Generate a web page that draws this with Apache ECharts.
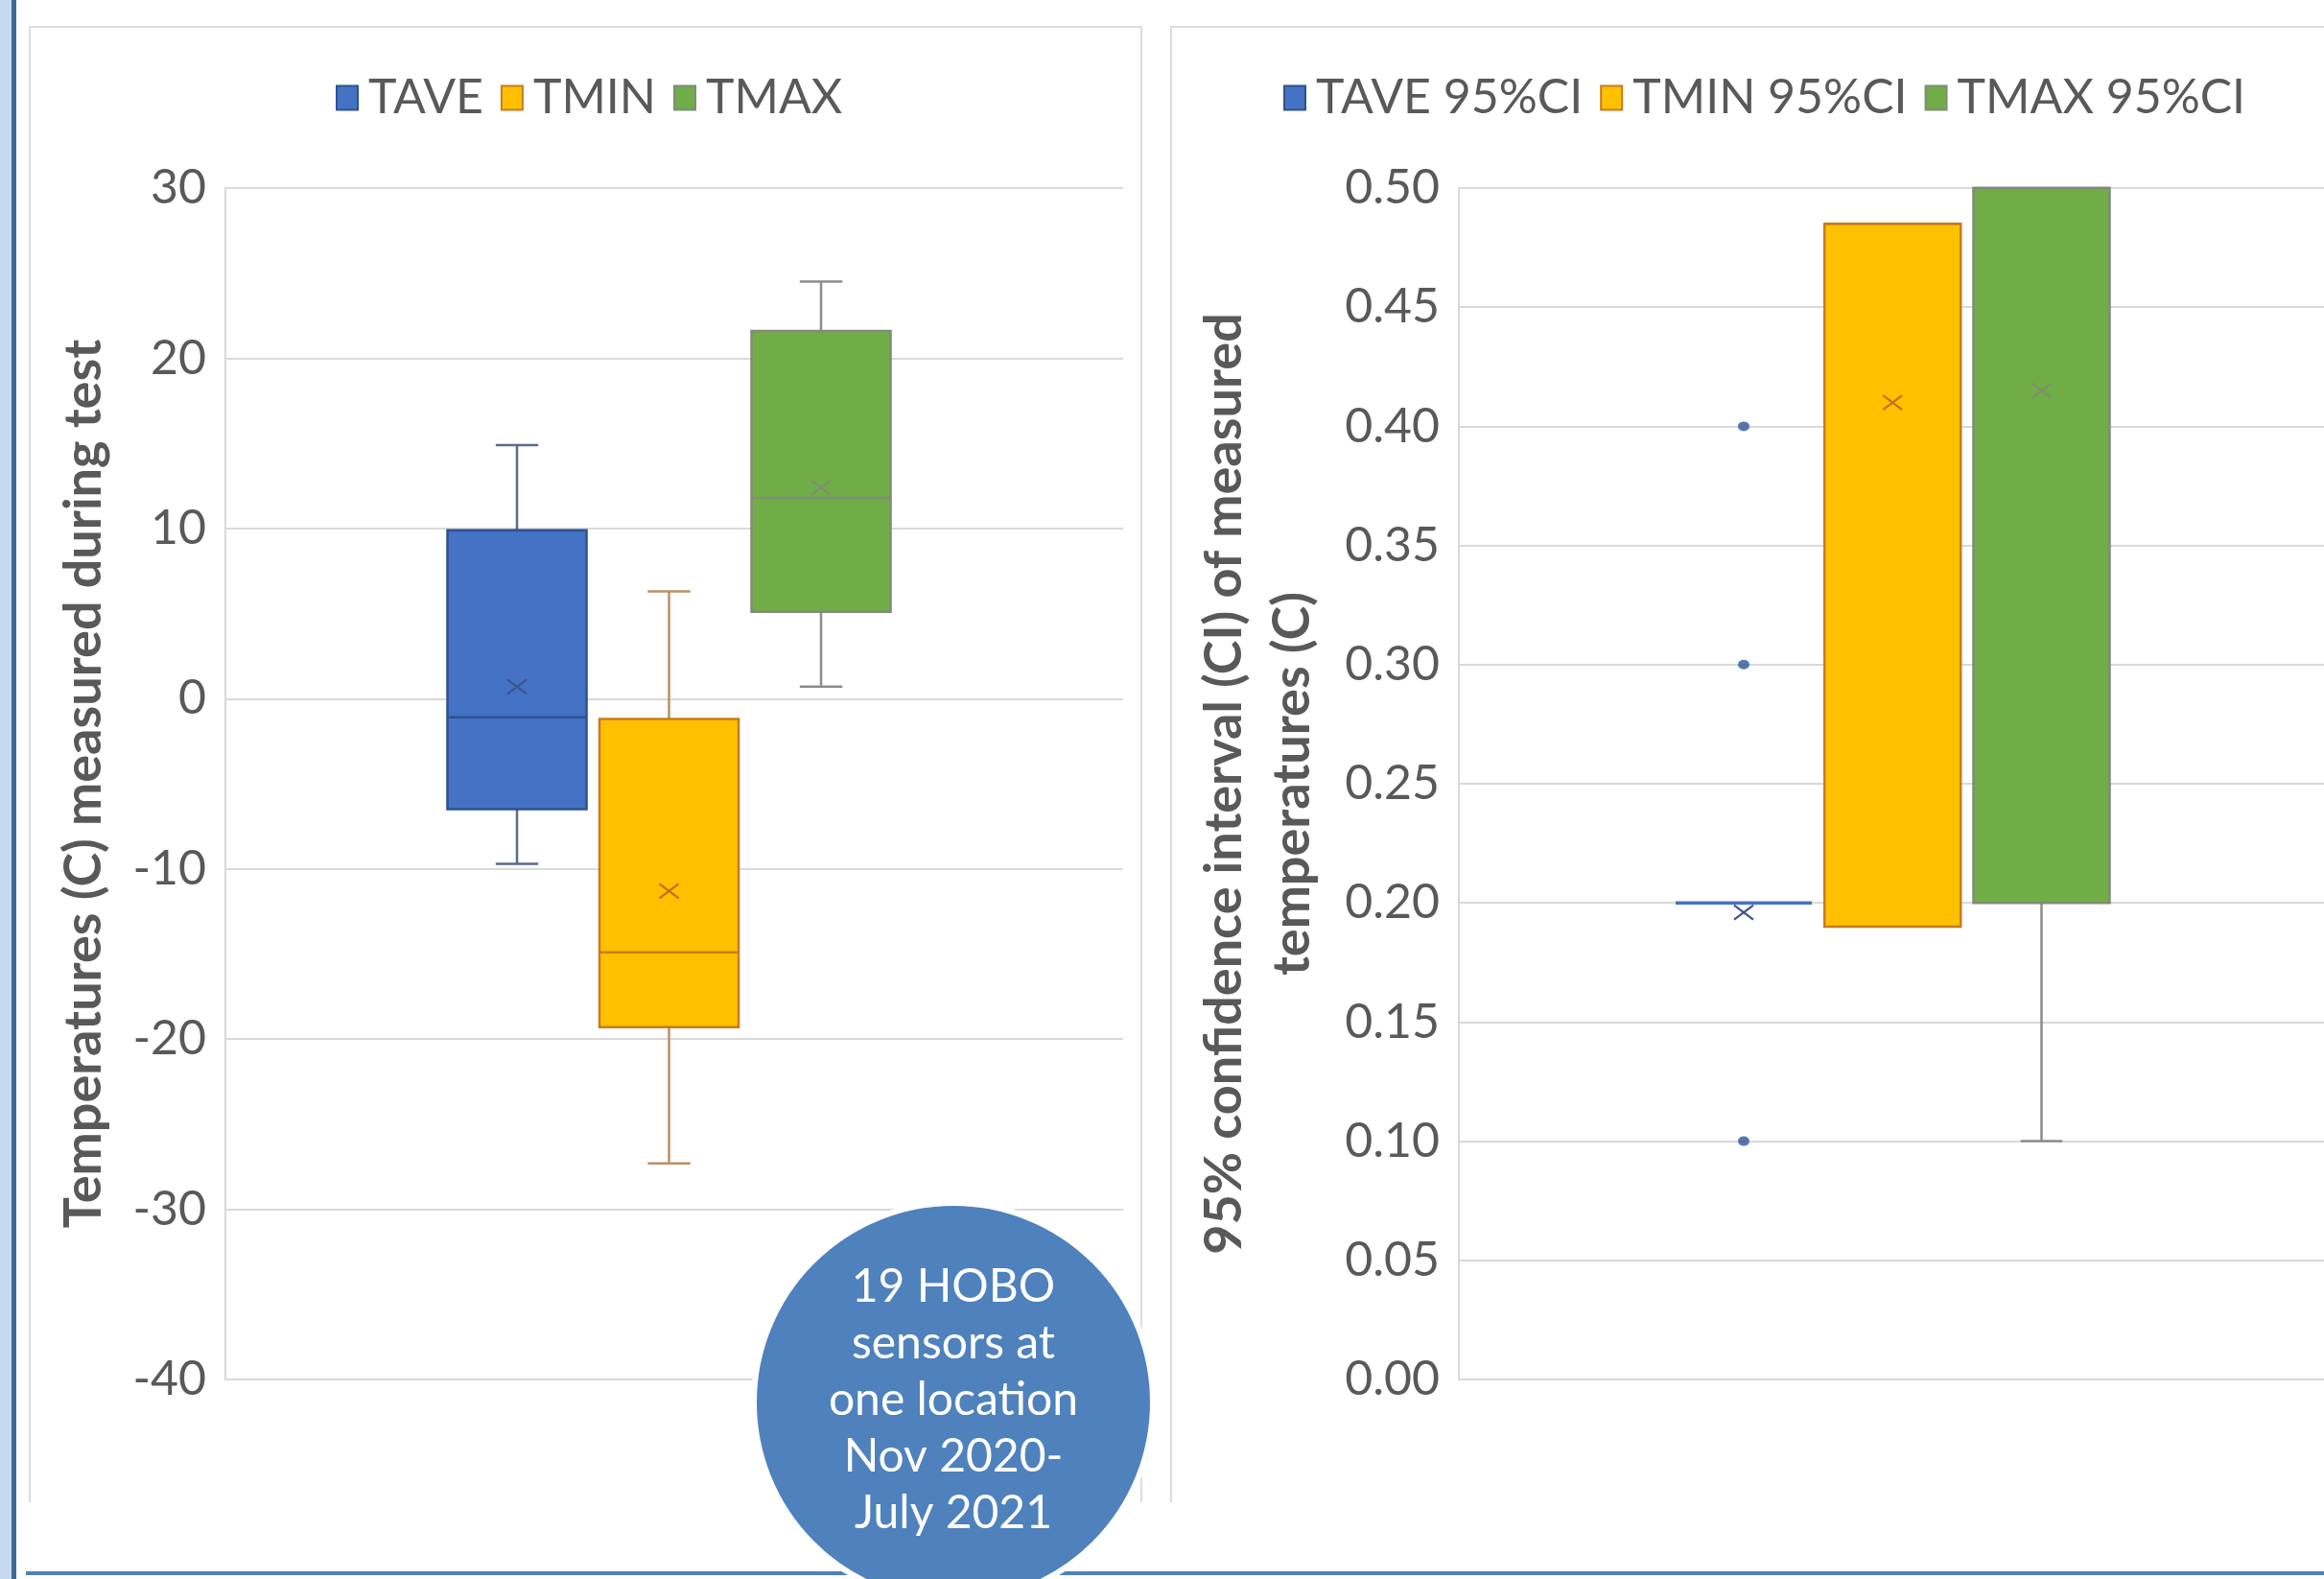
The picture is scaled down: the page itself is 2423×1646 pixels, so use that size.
<!DOCTYPE html>
<html><head><meta charset="utf-8">
<script src="https://cdn.jsdelivr.net/npm/echarts@6/dist/echarts.min.js"></script>
<style>html,body{margin:0;padding:0;background:#fff}#c{width:2423px;height:1646px}</style>
</head><body><div id="c"></div>
<script>
// ---------- Left panel: temperatures (C) ----------
const tempNames = ['TAVE', 'TMIN', 'TMAX'];
const tempPositions = [1, 2, 3];
const tempMin    = [-9.7, -27.3, 0.7];
const tempQ1     = [-6.5, -19.3, 5.1];
const tempMedian = [-1.1, -14.9, 11.8];
const tempQ3     = [9.9, -1.2, 21.6];
const tempMax    = [14.9, 6.3, 24.5];
const tempMean   = [0.7, -11.3, 12.4];
const tempAxis   = { min: -40, max: 30, interval: 10 };

// ---------- Right panel: 95% CI ----------
const ciNames = ['TAVE 95%CI', 'TMIN 95%CI', 'TMAX 95%CI'];
const ciPositions = [1, 2, 3];
const ciMin    = [0.20, 0.19, 0.10];
const ciQ1     = [0.20, 0.19, 0.20];
const ciMedian = [0.20, 0.485, 0.50];
const ciQ3     = [0.20, 0.485, 0.50];
const ciMax    = [0.20, 0.485, 0.50];
const ciMean   = [0.196, 0.41, 0.415];
const ciTaveOutliers = [0.10, 0.30, 0.40];
const ciAxis   = { min: 0, max: 0.5, interval: 0.05 };

const palette = [
  { fill: '#4472C4', border: '#2F528F', whisker: '#5A6A8E', mean: '#3B5590' },
  { fill: '#FFC000', border: '#C77C1E', whisker: '#BC8F63', mean: '#C0701E' },
  { fill: '#70AD47', border: '#808C78', whisker: '#8C8C8C', mean: '#7E8F72' }
];

const BOX_WIDTH = 0.915;
const CAP_WIDTH = 0.28;
const FONT = 'Lato, "Liberation Sans", sans-serif';
const GREY_TEXT = '#595959';
const GRID_COLOR = '#D9D9D9';

function makeBox(name, gridIndex, pos, stats, pal) {
  return {
    type: 'custom',
    name: name,
    xAxisIndex: gridIndex,
    yAxisIndex: gridIndex,
    itemStyle: { color: pal.fill, borderColor: pal.border },
    encode: { x: 0, y: [1, 2, 3, 4, 5, 6] },
    data: [[pos].concat(stats)],
    z: 3,
    renderItem: function (params, api) {
      const x = api.value(0);
      const vMin = api.value(1), q1 = api.value(2), med = api.value(3),
            q3 = api.value(4), vMax = api.value(5), mean = api.value(6);
      const cx = api.coord([x, q1])[0];
      const y = function (v) { return api.coord([x, v])[1]; };
      const hw = api.size([BOX_WIDTH, 0])[0] / 2;
      const hc = api.size([CAP_WIDTH, 0])[0] / 2;
      const wStyle = { stroke: pal.whisker, lineWidth: 2.5 };
      const children = [];
      if (vMax > q3) {
        children.push({ type: 'line', shape: { x1: cx, y1: y(q3), x2: cx, y2: y(vMax) }, style: wStyle });
        children.push({ type: 'line', shape: { x1: cx - hc, y1: y(vMax), x2: cx + hc, y2: y(vMax) }, style: wStyle });
      }
      if (vMin < q1) {
        children.push({ type: 'line', shape: { x1: cx, y1: y(q1), x2: cx, y2: y(vMin) }, style: wStyle });
        children.push({ type: 'line', shape: { x1: cx - hc, y1: y(vMin), x2: cx + hc, y2: y(vMin) }, style: wStyle });
      }
      const top = y(q3), bot = y(q1);
      if (bot - top > 0.5) {
        children.push({ type: 'rect', shape: { x: cx - hw, y: top, width: hw * 2, height: bot - top },
          style: { fill: pal.fill, stroke: pal.border, lineWidth: 2.5 } });
        children.push({ type: 'line', shape: { x1: cx - hw, y1: y(med), x2: cx + hw, y2: y(med) },
          style: { stroke: pal.border, lineWidth: 2.5 } });
      } else {
        children.push({ type: 'line', shape: { x1: cx - hw, y1: y(med), x2: cx + hw, y2: y(med) },
          style: { stroke: pal.fill, lineWidth: 3.5 } });
      }
      const my = y(mean), s = 10;
      children.push({ type: 'line', shape: { x1: cx - s, y1: my - s * 0.75, x2: cx + s, y2: my + s * 0.75 },
        style: { stroke: pal.mean, lineWidth: 2.2 } });
      children.push({ type: 'line', shape: { x1: cx - s, y1: my + s * 0.75, x2: cx + s, y2: my - s * 0.75 },
        style: { stroke: pal.mean, lineWidth: 2.2 } });
      return { type: 'group', children: children };
    }
  };
}

const series = [];
tempNames.forEach(function (n, i) {
  series.push(makeBox(n, 0, tempPositions[i],
    [tempMin[i], tempQ1[i], tempMedian[i], tempQ3[i], tempMax[i], tempMean[i]], palette[i]));
});
ciNames.forEach(function (n, i) {
  series.push(makeBox(n, 1, ciPositions[i],
    [ciMin[i], ciQ1[i], ciMedian[i], ciQ3[i], ciMax[i], ciMean[i]], palette[i]));
});
series.push({
  type: 'scatter', name: ciNames[0], xAxisIndex: 1, yAxisIndex: 1,
  symbol: 'circle', symbolSize: [12, 10],
  itemStyle: { color: '#2F5597' }, z: 4,
  data: ciTaveOutliers.map(function (v) { return [ciPositions[0], v]; })
});

function yAxisBase(gridIndex, ax) {
  return {
    gridIndex: gridIndex, type: 'value', min: ax.min, max: ax.max, interval: ax.interval,
    axisLine: { show: true, onZero: false, lineStyle: { color: GRID_COLOR, width: 2 } },
    axisTick: { show: false },
    splitLine: { show: true, lineStyle: { color: GRID_COLOR, width: 2 } },
    axisLabel: { fontSize: 50, color: GREY_TEXT, fontFamily: FONT, margin: 20 },
    nameLocation: 'middle', nameRotate: 90,
    nameTextStyle: { fontSize: 54, fontWeight: 'bold', color: GREY_TEXT, fontFamily: FONT }
  };
}
const yLeft = yAxisBase(0, tempAxis);
yLeft.name = 'Temperatures (C) measured during test';
yLeft.nameGap = 120;
const yRight = yAxisBase(1, ciAxis);
yRight.name = '95% confidence interval (CI) of measured\ntemperatures (C)';
yRight.nameGap = 138;
yRight.nameTextStyle.lineHeight = 71;
yRight.axisLabel.formatter = function (v) { return v.toFixed(2); };

function legendFor(names, left) {
  return {
    data: names.map(function (n, i) {
      return { name: n, itemStyle: { color: palette[i].fill, borderColor: palette[i].border, borderWidth: 2 } };
    }),
    left: left, top: 77, padding: 0,
    icon: 'rect', itemWidth: 22, itemHeight: 25, itemGap: 18,
    selectedMode: false,
    textStyle: { fontSize: 50, color: GREY_TEXT, fontFamily: FONT, padding: [0, 0, 0, 6] }
  };
}

const hiddenX = function (gridIndex, min, max) {
  return { gridIndex: gridIndex, type: 'value', min: min, max: max, show: false,
    splitLine: { show: false }, axisLine: { show: false }, axisTick: { show: false }, axisLabel: { show: false } };
};

const option = {
  animation: false,
  backgroundColor: '#ffffff',
  legend: [legendFor(tempNames, 350), legendFor(ciNames, 1338)],
  grid: [
    { left: 235, top: 196, width: 936, height: 1242 },
    { left: 1521, top: 196, right: 0, height: 1242 }
  ],
  xAxis: [hiddenX(0, -0.918, 4.987), hiddenX(1, -0.913, 4.897)],
  yAxis: [yLeft, yRight],
  series: series,
  graphic: [
    { type: 'rect', shape: { x: 0, y: 0, width: 12, height: 1646 }, style: { fill: '#C6D9F1' }, z: 50 },
    { type: 'rect', shape: { x: 12, y: 0, width: 5, height: 1646 }, style: { fill: '#3F6797' }, z: 50 },
    { type: 'polyline', shape: { points: [[31, 1566], [31, 28], [1190, 28], [1190, 1566]] },
      style: { fill: null, stroke: '#DCDCDC', lineWidth: 2 }, z: 1 },
    { type: 'polyline', shape: { points: [[1221, 1566], [1221, 28], [2423, 28]] },
      style: { fill: null, stroke: '#DCDCDC', lineWidth: 2 }, z: 1 },
    { type: 'rect', shape: { x: 27, y: 1638, width: 2396, height: 4 }, style: { fill: '#4F81BD' }, z: 50 },
    { type: 'circle', shape: { cx: 994, cy: 1462, r: 208 }, style: { fill: '#4F81BD', stroke: '#ffffff', lineWidth: 6 }, z: 100 },
    { type: 'text', x: 994, y: 1460, z: 101,
      style: { text: '19 HOBO\nsensors at\none location\nNov 2020-\nJuly 2021',
        fill: '#ffffff', fontSize: 48, lineHeight: 59, fontFamily: FONT, align: 'center', verticalAlign: 'middle' } }
  ]
};

const chart = echarts.init(document.getElementById('c'), null, { renderer: 'canvas' });
chart.setOption(option);
</script>
</body></html>
